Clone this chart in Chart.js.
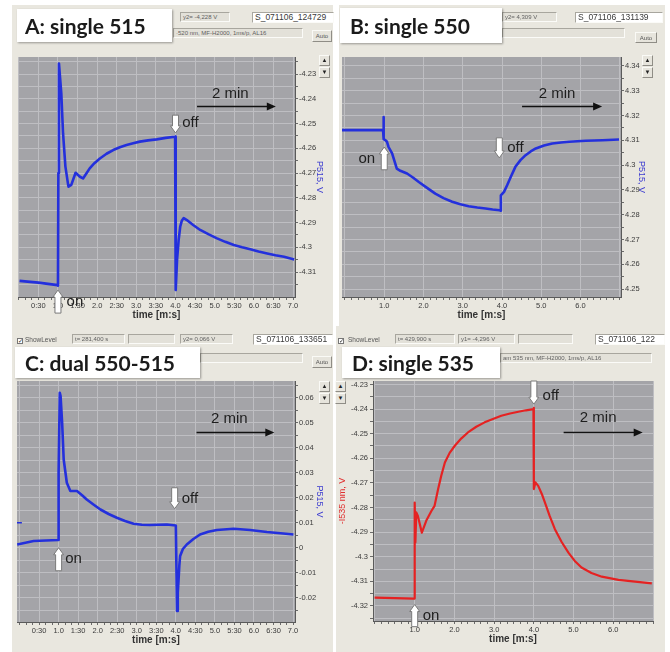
<!DOCTYPE html>
<html lang="en">
<head>
<meta charset="UTF-8">
<title>Light-induced signals 515 / 550 / 535 nm</title>
<script src="https://cdn.jsdelivr.net/npm/chart.js"></script>
<style>
  body { margin:0; width:670px; height:652px; position:relative; background:#fff; overflow:hidden;
         font-family: Arial, "Liberation Sans", sans-serif; }
  .panel { position:absolute; background:#e9e7df; }
  canvas { position:absolute; z-index:1; }
  .tag { position:absolute; z-index:3; background:#fff; color:#1b1b1b; white-space:nowrap;
         font-family: Lato, "Open Sans", sans-serif; font-weight:bold; font-size:21px;
         box-shadow: 1px 1px 2px rgba(0,0,0,.35); box-sizing:border-box; }
  .field { position:absolute; z-index:2; height:10px; box-sizing:border-box; padding-left:2px;
           border:1px solid #a8a69e; border-right-color:#fbfbf8; border-bottom-color:#fbfbf8;
           background:#e3e1d9; color:#606060; font-size:6px; line-height:8px; white-space:nowrap; overflow:hidden; }
  .file { background:#fff; color:#3a3a3a; font-size:8.5px; line-height:9px; height:11px; }
  .btn { position:absolute; z-index:2; box-sizing:border-box; border:1px solid #fafaf6; border-right-color:#8f8d86;
         border-bottom-color:#8f8d86; background:#e6e4dc; color:#555; font-size:6px; text-align:center; line-height:10px; }
  .spin { position:absolute; z-index:2; width:11px; height:11px; box-sizing:border-box; border:1px solid #fafaf6;
          border-right-color:#8f8d86; border-bottom-color:#8f8d86; background:#e6e4dc; color:#222;
          font-size:6px; line-height:9px; text-align:center; }
  .chk { position:absolute; z-index:2; width:6px; height:6px; box-sizing:border-box; border:1px solid #777; background:#fff;
         font-size:6px; line-height:5px; text-align:center; color:#222; }
  .lbl { position:absolute; z-index:2; font-size:6.5px; color:#555; white-space:nowrap; }
</style>
</head>
<body>

<div class="panel" style="left:12px;top:5px;width:321px;height:321px"></div>
<div class="panel" style="left:339px;top:5px;width:326px;height:321px"></div>
<div class="panel" style="left:12px;top:326px;width:321px;height:326px"></div>
<div class="panel" style="left:336px;top:326px;width:329px;height:326px"></div>

<canvas id="chartA" width="335" height="326" style="left:0;top:0"></canvas>
<canvas id="chartB" width="335" height="326" style="left:335px;top:0"></canvas>
<canvas id="chartC" width="335" height="326" style="left:0;top:326px"></canvas>
<canvas id="chartD" width="335" height="326" style="left:335px;top:326px"></canvas>

<!-- panel A chrome -->
<div class="tag" style="left:17px;top:9px;width:155px;height:33px;padding-left:8px;line-height:33px">A: single 515</div>
<div class="field" style="left:180px;top:12px;width:50px">y2= -4,228 V</div>
<div class="field file" style="left:252px;top:12px;width:82px">S_071106_124729</div>
<div class="field" style="left:173px;top:28px;width:130px">·520 nm, MF-H2000, 1ms/p, AL16</div>
<div class="btn" style="left:312px;top:30px;width:20px;height:12px">Auto</div>
<div class="spin" style="left:319px;top:55px">▲</div>
<div class="spin" style="left:319px;top:67px">▼</div>

<!-- panel B chrome -->
<div class="tag" style="left:340px;top:8px;width:162px;height:35px;padding-left:10px;line-height:35px">B: single 550</div>
<div class="field" style="left:502px;top:12px;width:55px">y2= 4,309 V</div>
<div class="field file" style="left:575px;top:12px;width:88px">S_071106_131139</div>
<div class="field" style="left:502px;top:28px;width:123px"></div>
<div class="btn" style="left:635px;top:32px;width:22px;height:11px">Auto</div>
<div class="spin" style="left:642px;top:55px">▲</div>
<div class="spin" style="left:642px;top:67px">▼</div>

<!-- panel C chrome -->
<div class="chk" style="left:17px;top:338px">✓</div>
<div class="lbl" style="left:25px;top:336px">ShowLevel</div>
<div class="field" style="left:72px;top:334px;width:53px">t= 281,400 s</div>
<div class="field" style="left:128px;top:334px;width:47px"></div>
<div class="field" style="left:180px;top:334px;width:53px">y2= 0,066 V</div>
<div class="field file" style="left:253px;top:334px;width:80px">S_071106_133651</div>
<div class="tag" style="left:15px;top:347px;width:185px;height:31px;padding-left:10px;line-height:31px">C: dual 550-515</div>
<div class="field" style="left:200px;top:353px;width:103px"></div>
<div class="btn" style="left:312px;top:356px;width:20px;height:12px">Auto</div>
<div class="spin" style="left:319px;top:381px">▲</div>
<div class="spin" style="left:319px;top:393px">▼</div>

<!-- panel D chrome -->
<div class="chk" style="left:338px;top:338px">✓</div>
<div class="lbl" style="left:348px;top:336px">ShowLevel</div>
<div class="field" style="left:395px;top:334px;width:60px">t= 429,900 s</div>
<div class="field" style="left:458px;top:334px;width:57px">y1= -4,296 V</div>
<div class="field" style="left:518px;top:334px;width:55px"></div>
<div class="field file" style="left:595px;top:334px;width:70px">S_071106_122</div>
<div class="tag" style="left:342px;top:347px;width:158px;height:31px;padding-left:10px;line-height:31px">D: single 535</div>
<div class="field" style="left:500px;top:353px;width:152px">am 535 nm, MF-H2000, 1ms/p, AL16</div>
<div class="spin" style="left:335px;top:381px">▲</div>
<div class="spin" style="left:335px;top:393px">▼</div>

<script>
// ---- data (time in minutes, signal in V) ----
const timeA = [0.02, 0.5, 0.99, 1.0, 1.01, 1.025, 1.085, 1.13, 1.19, 1.26, 1.27, 1.34, 1.45, 1.56, 1.64, 1.72, 1.81, 1.93, 2.07, 2.24, 2.41, 2.58, 2.75, 2.92, 3.09, 3.3, 3.52, 3.75, 3.99, 4.0, 4.01, 4.04, 4.08, 4.12, 4.16, 4.21, 4.29, 4.45, 4.63, 4.85, 5.06, 5.27, 5.49, 5.7, 5.91, 6.12, 6.34, 6.55, 6.77, 7.03];
const p515A = [-4.3136, -4.3143, -4.3153, -4.3155, -4.27, -4.2257, -4.2378, -4.254, -4.2674, -4.2748, -4.2755, -4.2748, -4.2699, -4.2715, -4.2722, -4.2703, -4.2681, -4.266, -4.2641, -4.2622, -4.2607, -4.2596, -4.2587, -4.258, -4.2573, -4.2568, -4.2564, -4.2558, -4.2553, -4.2553, -4.3173, -4.305, -4.2971, -4.2917, -4.2893, -4.2882, -4.289, -4.291, -4.293, -4.2948, -4.2964, -4.2978, -4.2991, -4.3, -4.3008, -4.3017, -4.3025, -4.3032, -4.3038, -4.3049];

const timeB = [-0.08, 0.5, 0.94, 0.97, 0.98, 0.99, 1.03, 1.07, 1.11, 1.2, 1.32, 1.41, 1.58, 1.73, 1.88, 2.09, 2.3, 2.51, 2.73, 2.94, 3.15, 3.37, 3.58, 3.76, 3.94, 3.96, 3.97, 4.05, 4.13, 4.23, 4.34, 4.47, 4.6, 4.73, 4.86, 5.07, 5.28, 5.5, 5.71, 6.13, 6.56, 6.98];
const p515B = [4.3141, 4.3141, 4.3141, 4.3141, 4.3194, 4.3105, 4.31, 4.3094, 4.3073, 4.3047, 4.2986, 4.2977, 4.2966, 4.295, 4.2932, 4.2908, 4.2885, 4.2867, 4.2852, 4.2842, 4.2834, 4.2829, 4.2825, 4.2821, 4.2818, 4.2816, 4.2878, 4.2892, 4.2919, 4.2955, 4.2993, 4.302, 4.304, 4.3055, 4.3067, 4.3079, 4.3087, 4.3091, 4.3094, 4.3098, 4.31, 4.3103];

const timeC = [-0.06, 0.36, 0.99, 1.0, 1.03, 1.05, 1.09, 1.13, 1.21, 1.3, 1.47, 1.6, 1.72, 1.9, 2.07, 2.28, 2.49, 2.7, 2.92, 3.13, 3.34, 3.55, 3.77, 4.0, 4.03, 4.05, 4.07, 4.09, 4.11, 4.18, 4.28, 4.45, 4.62, 4.83, 5.05, 5.48, 5.9, 6.33, 6.75, 7.01];
const p515C = [0.0013, 0.0027, 0.0031, 0.03, 0.062, 0.0607, 0.05, 0.0353, 0.026, 0.0227, 0.0227, 0.021, 0.0193, 0.0172, 0.0153, 0.0135, 0.012, 0.0107, 0.0096, 0.0092, 0.0091, 0.0092, 0.0093, 0.0089, -0.0253, -0.018, -0.0127, -0.007, -0.0033, -0.0005, 0.0013, 0.0035, 0.0053, 0.0064, 0.0071, 0.0076, 0.0071, 0.0063, 0.0057, 0.0053];
const levelTimeC = [-0.07, 0.06];
const levelC = [0.01, 0.01];

const timeD = [-0.01, 0.5, 0.98, 1.0, 1.0, 1.017, 1.04, 1.08, 1.18, 1.29, 1.42, 1.5, 1.59, 1.67, 1.76, 1.88, 2.01, 2.17, 2.34, 2.55, 2.76, 2.97, 3.18, 3.4, 3.61, 3.8, 3.99, 4.0, 4.0, 4.04, 4.11, 4.2, 4.28, 4.4, 4.53, 4.7, 4.87, 5.03, 5.2, 5.45, 5.71, 6.13, 6.55, 6.97];
const i535D = [-4.3166, -4.3168, -4.317, -4.317, -4.278, -4.2942, -4.282, -4.2834, -4.2902, -4.2854, -4.2814, -4.2793, -4.2725, -4.267, -4.2617, -4.2578, -4.2549, -4.252, -4.2495, -4.2472, -4.2454, -4.244, -4.2427, -4.2418, -4.2411, -4.2405, -4.24, -4.2395, -4.2725, -4.2698, -4.2712, -4.2745, -4.278, -4.2835, -4.2888, -4.294, -4.2983, -4.3017, -4.3044, -4.3066, -4.3081, -4.3094, -4.3101, -4.3108];

// ---- tick labels ----
const halfMinTicks = [0.5, 1, 1.5, 2, 2.5, 3, 3.5, 4, 4.5, 5, 5.5, 6, 6.5, 7];
const halfMinLabels = ['0:30', '1.0', '1:30', '2.0', '2:30', '3.0', '3:30', '4.0', '4:30', '5.0', '5:30', '6.0', '6:30', '7.0'];
const minTicks = [1, 2, 3, 4, 5, 6];
const minLabels = ['1.0', '2.0', '3.0', '4.0', '5.0', '6.0'];
const yTicksA = [-4.23, -4.24, -4.25, -4.26, -4.27, -4.28, -4.29, -4.3, -4.31];
const yTicksB = [4.34, 4.33, 4.32, 4.31, 4.3, 4.29, 4.28, 4.27, 4.26, 4.25];
const yTicksC = [0.06, 0.05, 0.04, 0.03, 0.02, 0.01, 0, -0.01, -0.02];
const yTicksD = [-4.23, -4.24, -4.25, -4.26, -4.27, -4.28, -4.29, -4.3, -4.31, -4.32];

const BLUE = '#2430dc', RED = '#e52222';
const GRID = '#bebec2', AXIS = '#5a5a5a', TXT = '#3a3a3a';

function pts(xs, ys) { return xs.map((x, i) => ({ x: x, y: ys[i] })); }
function near(a, b) { return Math.abs(a - b) < 1e-6; }

const plotBg = {
  id: 'plotBg',
  beforeDraw(chart) {
    const { ctx, chartArea: a } = chart;
    ctx.save();
    ctx.fillStyle = '#a4a4a8';
    ctx.fillRect(a.left, a.top, a.width, a.height);
    ctx.restore();
  }
};

function blockArrow(ctx, x, yTail, yTip) {
  const d = yTip > yTail ? 1 : -1, h = 7;
  ctx.beginPath();
  ctx.moveTo(x - 3, yTail);
  ctx.lineTo(x - 3, yTip - d * h);
  ctx.lineTo(x - 5, yTip - d * h);
  ctx.lineTo(x, yTip);
  ctx.lineTo(x + 5, yTip - d * h);
  ctx.lineTo(x + 3, yTip - d * h);
  ctx.lineTo(x + 3, yTail);
  ctx.closePath();
  ctx.fillStyle = '#fff';
  ctx.fill();
  ctx.strokeStyle = '#7a7a7a';
  ctx.lineWidth = 1;
  ctx.stroke();
}

// on/off arrows, their words and the "2 min" bar
const notes = {
  id: 'notes',
  afterDraw(chart, args, opts) {
    const { ctx } = chart;
    const X = v => chart.scales.x.getPixelForValue(v);
    const Y = v => chart.scales.y.getPixelForValue(v);
    ctx.save();
    opts.arrows.forEach(a => blockArrow(ctx, X(a.x), Y(a.from), Y(a.to)));
    ctx.fillStyle = '#1e1e1e';
    ctx.font = '15px Arial, "Liberation Sans", sans-serif';
    ctx.textBaseline = 'middle';
    opts.words.forEach(w => {
      ctx.textAlign = w.align || 'left';
      ctx.fillText(w.text, X(w.x), Y(w.y));
    });
    const s = opts.span;
    const x0 = X(s.x0), x1 = X(s.x1), y = Math.round(Y(s.y)) + 0.5;
    ctx.strokeStyle = '#111';
    ctx.lineWidth = 1.5;
    ctx.beginPath();
    ctx.moveTo(x0, y);
    ctx.lineTo(x1 - 6, y);
    ctx.stroke();
    ctx.beginPath();
    ctx.moveTo(x1, y);
    ctx.lineTo(x1 - 9, y - 4);
    ctx.lineTo(x1 - 9, y + 4);
    ctx.closePath();
    ctx.fillStyle = '#111';
    ctx.fill();
    ctx.textAlign = 'center';
    ctx.fillStyle = '#1e1e1e';
    ctx.fillText('2 min', X(s.tx), Y(s.ty));
    ctx.restore();
  }
};

function makeChart(id, c) {
  return new Chart(document.getElementById(id), {
    type: 'line',
    data: { datasets: c.datasets },
    options: {
      responsive: false,
      animation: false,
      events: [],
      layout: { padding: c.padding },
      elements: { point: { radius: 0 }, line: { tension: 0 } },
      plugins: { legend: { display: false }, tooltip: { enabled: false }, notes: c.notes },
      scales: {
        x: {
          type: 'linear', min: c.xMin, max: c.xMax,
          afterFit: s => { s.height = 28; },
          afterBuildTicks: s => {
            const t = [];
            for (let k = Math.ceil(c.xMin * 6); k <= Math.floor(c.xMax * 6); k++) t.push({ value: k / 6 });
            s.ticks = t;
          },
          ticks: {
            autoSkip: false, maxRotation: 0, padding: 1, color: TXT,
            font: { size: 7.5, family: 'Arial, "Liberation Sans"' },
            callback: v => {
              const i = c.xTicks.findIndex(t => near(t, v));
              return i < 0 ? '' : c.xLabels[i];
            }
          },
          grid: {
            tickLength: 3, tickColor: '#6a6a6a',
            color: g => (g.tick && near(g.tick.value / c.xGrid, Math.round(g.tick.value / c.xGrid))) ? GRID : 'rgba(0,0,0,0)'
          },
          border: { color: AXIS },
          title: { display: true, text: 'time [m:s]', color: '#333', padding: { top: 0, bottom: 4 },
                   font: { size: 10, weight: 'bold', family: 'Arial, "Liberation Sans"' } }
        },
        y: {
          type: 'linear', position: c.yPos, min: c.yMin, max: c.yMax,
          afterFit: s => { s.width = c.yWidth; },
          afterBuildTicks: s => {
            const t = [];
            c.yTicks.forEach(v => { t.push({ value: v }); t.push({ value: v - 0.005 }); });
            t.push({ value: c.yTicks[0] + 0.005 });
            s.ticks = t.filter(o => o.value >= c.yMin && o.value <= c.yMax).sort((a, b) => a.value - b.value);
          },
          ticks: {
            autoSkip: false, padding: c.yPad, color: TXT,
            font: { size: 7.5, family: 'Arial, "Liberation Sans"' },
            callback: v => {
              const hit = c.yTicks.find(t => near(t, v));
              return hit === undefined ? '' : String(hit);
            }
          },
          grid: { tickLength: 3, tickColor: '#6a6a6a', color: GRID },
          border: { color: AXIS },
          title: { display: true, text: c.yTitle, color: c.yColor, padding: { top: c.titlePad, bottom: 0 },
                   font: { size: 9, family: 'Arial, "Liberation Sans"' } }
        }
      }
    },
    plugins: [plotBg, notes]
  });
}

function trace(xs, ys, color, w) {
  return { data: pts(xs, ys), borderColor: color, borderWidth: w, fill: false, borderJoinStyle: 'round' };
}

makeChart('chartA', {
  datasets: [trace(timeA, p515A, BLUE, 2.6)],
  padding: { left: 18, top: 57, right: 0, bottom: 1 },
  xMin: -0.02, xMax: 7.05, xTicks: halfMinTicks, xLabels: halfMinLabels, xGrid: 0.5,
  yMin: -4.3201, yMax: -4.2231, yTicks: yTicksA, yPos: 'right', yWidth: 40, yPad: 1,
  yTitle: 'P515, V', yColor: '#3a3ad0', titlePad: 10,
  notes: {
    arrows: [{ x: 1.0, from: -4.3266, to: -4.3173 }, { x: 4.0, from: -4.2466, to: -4.2538 }],
    words: [{ text: 'on', x: 1.22, y: -4.3221 }, { text: 'off', x: 4.17, y: -4.2498 }],
    span: { x0: 4.55, x1: 6.56, y: -4.2429, tx: 5.4, ty: -4.2381 }
  }
});

makeChart('chartB', {
  datasets: [trace(timeB, p515B, BLUE, 2.6)],
  padding: { left: 7, top: 57, right: 9, bottom: 1 },
  xMin: -0.076, xMax: 7.03, xTicks: minTicks, xLabels: minLabels, xGrid: 1,
  yMin: 4.2468, yMax: 4.3436, yTicks: yTicksB, yPos: 'right', yWidth: 40, yPad: 1,
  yTitle: 'P515, V', yColor: '#3a3ad0', titlePad: 14,
  notes: {
    arrows: [{ x: 1.0, from: 4.2981, to: 4.3073 }, { x: 3.93, from: 4.311, to: 4.3029 }],
    words: [{ text: 'on', x: 0.77, y: 4.3025, align: 'right' }, { text: 'off', x: 4.13, y: 4.3069 }],
    span: { x0: 4.51, x1: 6.55, y: 4.3239, tx: 5.4, ty: 4.3287 }
  }
});

makeChart('chartC', {
  datasets: [trace(timeC, p515C, BLUE, 2.6), trace(levelTimeC, levelC, BLUE, 1.5)],
  padding: { left: 17, top: 55, right: 0, bottom: 2 },
  xMin: -0.065, xMax: 7.05, xTicks: halfMinTicks, xLabels: halfMinLabels, xGrid: 0.5,
  yMin: -0.0297, yMax: 0.0667, yTicks: yTicksC, yPos: 'right', yWidth: 40, yPad: 1,
  yTitle: 'P515, V', yColor: '#3a3ad0', titlePad: 10,
  notes: {
    arrows: [{ x: 1.0, from: -0.0092, to: 0.0 }, { x: 3.97, from: 0.024, to: 0.0156 }],
    words: [{ text: 'on', x: 1.17, y: -0.0044 }, { text: 'off', x: 4.15, y: 0.0196 }],
    span: { x0: 4.53, x1: 6.52, y: 0.0464, tx: 5.37, ty: 0.0516 }
  }
});

makeChart('chartD', {
  datasets: [trace(timeD, i535D, RED, 2.2)],
  padding: { left: 0, top: 55, right: 17, bottom: 3 },
  xMin: -0.05, xMax: 7.0, xTicks: minTicks, xLabels: minLabels, xGrid: 1,
  yMin: -4.3261, yMax: -4.2286, yTicks: yTicksD, yPos: 'left', yWidth: 38, yPad: 2,
  yTitle: '-I535 nm, V', yColor: '#e03030', titlePad: 2,
  notes: {
    arrows: [{ x: 4.0, from: -4.2286, to: -4.238 }, { x: 1.0, from: -4.3284, to: -4.3194 }],
    words: [{ text: 'off', x: 4.22, y: -4.2347 }, { text: 'on', x: 1.2, y: -4.3241 }],
    span: { x0: 4.75, x1: 6.74, y: -4.2494, tx: 5.62, ty: -4.2437 }
  }
});
</script>
</body>
</html>
